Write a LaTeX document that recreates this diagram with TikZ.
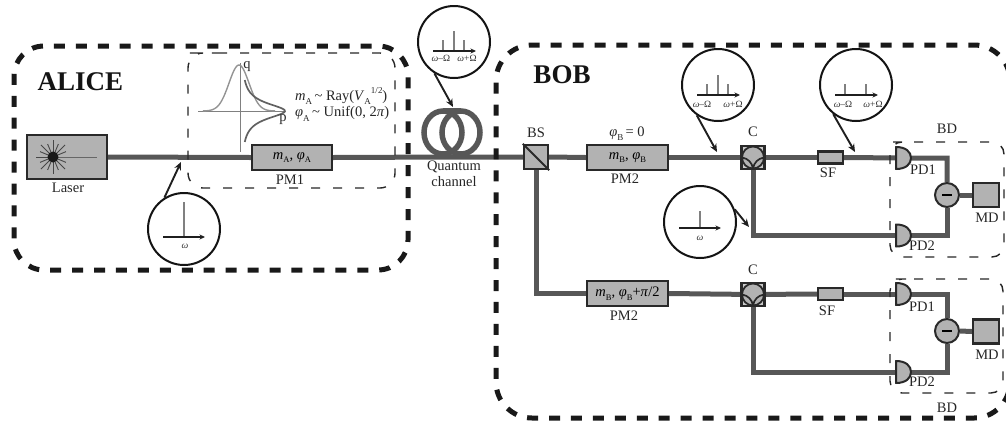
\documentclass[tikz,border=0pt]{standalone}
\usepackage{fontspec}
\setmainfont{Liberation Serif}
\usetikzlibrary{arrows.meta,backgrounds}
\definecolor{boxfill}{gray}{0.70}
\definecolor{boxline}{gray}{0.16}
\definecolor{beamgray}{gray}{0.34}
\newcommand{\labf}{\fontsize{14.5}{15}\selectfont}
\newcommand{\sm}{\fontsize{9.5}{10}\selectfont}
\newcommand{\subs}[1]{\raisebox{-0.25em}{\fontsize{8.5}{9}\selectfont #1}}
\newcommand{\subt}[1]{\raisebox{-0.3em}{\fontsize{9}{9}\selectfont #1}}
\newcommand{\phit}{\textit{φ}}
\newcommand{\omg}{\textit{ω}}
\newcommand{\tildec}{\char"7E\relax}
\tikzset{
  region/.style={line width=5pt,black!90,dash pattern=on 11pt off 10.94pt},
  innerregion/.style={line width=1.4pt,black!85,dash pattern=on 9pt off 13pt},
  gbox/.style={draw=boxline,fill=boxfill,line width=2.3pt,inner sep=0pt,minimum width=80pt,minimum height=25pt},
  sfbox/.style={gbox,minimum width=25pt,minimum height=12pt},
  sqbox/.style={gbox,minimum width=26pt,minimum height=24pt},
  beam/.style={beamgray,line width=5pt},
  bubble/.style={circle,draw=black!92,fill=white,line width=2pt,minimum size=72pt,inner sep=0pt},
  callout/.style={black!88,line width=1.9pt,-{Stealth[length=8pt,width=7pt]}},
  axisln/.style={black!88,line width=1.5pt,-{Stealth[length=5.5pt,width=5pt]}},
  tick/.style={black!50,line width=1.1pt},
  txt/.style={inner sep=0pt,text=black!85,font=\labf},
  tiny/.style={inner sep=0pt,text=black!80,font=\sm},
  title/.style={inner sep=0pt,font=\fontsize{27}{28}\selectfont\bfseries,text=black!92},
  devline/.style={draw=boxline,fill=boxfill,line width=2pt,line join=round},
  diffc/.style={circle,draw=boxline,fill=boxfill,line width=2pt,minimum size=24pt,inner sep=0pt},
  pdnode/.style={inner sep=0pt,minimum width=15pt,minimum height=23pt},
}
\newcommand{\PDdraw}[2]{% flat x, centre y
  \draw[devline] (#1,#2-11) -- (#1,#2+11) .. controls (#1+10,#2+11) and (#1+15,#2+6) .. (#1+15,#2) .. controls (#1+15,#2-6) and (#1+10,#2-11) .. cycle;
}
\newcommand{\Coupler}[2]{% centre
  \draw[boxline,fill=boxfill!70,line width=2.2pt] (#1,#2) +(-11.5,-11.5) rectangle +(11.5,11.5);
  \draw[boxline,fill=boxfill,line width=1.8pt] (#1,#2) circle (11);
  \draw[boxline,line width=1.7pt] (#1-11,#2+0) .. controls (#1-5,#2+1) and (#1-1,#2+5) .. (#1,#2+11);
  \draw[boxline,line width=1.7pt] (#1+11,#2+0) .. controls (#1+5,#2+1) and (#1+1,#2+5) .. (#1,#2+11);
}
\newcommand{\SpecThree}[2]{% centre x, axis y
  \draw[tick] (#1,#2) -- (#1,#2-20);
  \draw[tick] (#1-11,#2) -- (#1-11,#2-11);
  \draw[tick] (#1+10,#2) -- (#1+10,#2-11);
  \draw[axisln] (#1-21,#2) -- (#1+22,#2);
}
\newcommand{\SpecTwo}[2]{%
  \draw[tick] (#1-11,#2) -- (#1-11,#2-11);
  \draw[tick] (#1+10,#2) -- (#1+10,#2-11);
  \draw[axisln] (#1-21,#2) -- (#1+22,#2);
}
\begin{document}
\begin{tikzpicture}[x=1pt,y=-1pt]
\useasboundingbox (0,0) rectangle (1006,421);

% regions
\draw[region,rounded corners=30pt] (199,46) -- (408,46) -- (408,270) -- (14,270) -- (14,46) -- cycle;
\begin{scope}
  \clip (0,0) rectangle (1006,421);
  \draw[region,rounded corners=36pt] (691,45) -- (1010,45) -- (1010,418) -- (496,418) -- (496,45) -- cycle;
\end{scope}
\draw[innerregion,rounded corners=15pt] (203,53) -- (395,53) -- (395,188) -- (188,188) -- (188,53) -- cycle;
\draw[innerregion,rounded corners=12pt] (902,142) -- (1004,142) -- (1004,257) -- (890,257) -- (890,142) -- cycle;
\draw[innerregion,rounded corners=12pt] (902,279) -- (1003,279) -- (1003,393) -- (890,393) -- (890,279) -- cycle;

% devices
\node[gbox,minimum height=44pt] (laser) at (67,157) {};
\node[gbox] (pm1) at (292,157.5) {\labf\textit{m}\subs{A}, \phit\subs{A}};
\node[sqbox,minimum width=24pt] (bs) at (536,157) {};
\draw[boxline,line width=1.8pt] (bs.north west) -- (bs.south east);
\node[gbox,minimum width=81pt] (pm2) at (627.5,157.5) {\labf\textit{m}\subs{B}, \phit\subs{B}};
\node[gbox,minimum width=81pt] (pm3) at (627.5,293.5) {\labf\textit{m}\subs{B}, \phit\subs{B}+\textit{π}/2};
\node[pdnode] (c1) at (753,157.5) {};
\node[pdnode] (c2) at (753,294.5) {};
\node[sfbox] (sf1) at (830.5,157.5) {};
\node[sfbox] (sf2) at (830.5,294) {};
\node[pdnode] (pd1a) at (903.5,158) {};
\node[pdnode] (pd2a) at (903.5,235.5) {};
\node[pdnode] (pd1b) at (903.5,294) {};
\node[pdnode] (pd2b) at (903.5,372) {};
\node[diffc] (diffa) at (947,195) {\rule{10pt}{2pt}};
\node[diffc] (diffb) at (947,331) {\rule{10pt}{2pt}};
\node[sqbox] (mda) at (986,195) {};
\node[sqbox] (mdb) at (986,331.5) {};

% connectors
\coordinate (fibre) at (454,157);
\begin{scope}[on background layer]
  \draw[beam] (laser.east) -- (pm1.west);
  \draw[beam] (pm1.east) -- (fibre) -- (bs.west);
  \draw[beam] (bs.east) -- (pm2.west);
  \draw[beam] (pm2.east) -- (c1.center) -- (sf1.west);
  \draw[beam] (sf1.east) -- (pd1a.center) -| (diffa.north);
  \draw[beam] (c1.center) |- (pd2a.center) -| (diffa.south);
  \draw[beam] (bs.south) |- (pm3.west);
  \draw[beam] (pm3.east) -- (c2.center) -- (sf2.west);
  \draw[beam] (sf2.east) -- (pd1b.center) -| (diffb.north);
  \draw[beam] (c2.center) |- (pd2b.center) -| (diffb.south);
  \draw[beam] (diffa.east) -- (mda.west);
  \draw[beam] (diffb.east) -- (mdb.west);
\end{scope}
\Coupler{753}{157.5}
\Coupler{753}{294.5}
\PDdraw{896}{158}
\PDdraw{896}{235.5}
\PDdraw{896}{294}
\PDdraw{896}{372}

% laser star
\foreach \a in {0,22.5,...,359} {
  \draw[black!72,line width=0.9pt] (53,157) -- ++(\a:{mod(\a,45)==0 ? 17 : 14});
}
\draw[black!60,line width=1pt] (53,157) -- (97,157);
\fill[black!90] (53,157) circle (5.5);

% coil
\draw[beamgray,line width=5.5pt] (443,110.5) -- (461,110.5);
\draw[beamgray,line width=5.5pt] (443,132.5) circle [x radius=19,y radius=21.5];
\draw[beamgray,line width=5.5pt] (461,132.5) circle [x radius=19,y radius=21.5];

% phase-space plot
\draw[black!50,line width=1pt] (240,63) -- (240,152);
\draw[black!50,line width=1pt] (198,111) -- (286,111);
\draw[black!42,line width=1.4pt,smooth,samples=50,domain=-36:36] plot ({239+\x},{111-46*exp(-\x*\x/200)});
\draw[black!62,line width=1.7pt,smooth,samples=60,domain=-31:31] plot ({241+44/(1+(\x/9.5)*(\x/9.5))},{111+\x});

% bubbles
\node[bubble] (b0) at (184,229) {};
\draw[black!50,line width=1.1pt] (184,202) -- (184,237);
\draw[axisln] (163,237) -- (205,237);
\node[tiny] (b0w) at (185,246) {\omg};

\node[bubble] (b1) at (454,42) {};
\SpecThree{454}{51}
\node[tiny] (b1l) at (441,58.5) {\omg–Ω};
\node[tiny] (b1r) at (467,58.5) {\omg+Ω};

\node[bubble] (b2) at (718,85) {};
\SpecThree{718}{95}
\node[tiny] (b2l) at (702,104) {\omg–Ω};
\node[tiny] (b2r) at (733,104) {\omg+Ω};

\node[bubble] (b3) at (856,85) {};
\SpecTwo{856}{95}
\node[tiny] (b3l) at (843,104) {\omg–Ω};
\node[tiny] (b3r) at (873,104) {\omg+Ω};

\node[bubble] (b4) at (700,222) {};
\draw[black!50,line width=1.1pt] (700,211) -- (700,228);
\draw[axisln] (679,228) -- (721,228);
\node[tiny] (b4w) at (700,238) {\omg};

\coordinate (t0) at (181,162);
\coordinate (t1) at (453,107);
\coordinate (t2) at (717,152);
\coordinate (t3) at (855,152);
\coordinate (t4) at (749,227);
\draw[callout] (b0.122) -- (t0);
\draw[callout] (b1.-122) -- (t1);
\draw[callout] (b2.-125) -- (t2);
\draw[callout] (b3.-128) -- (t3);
\draw[callout] (b4.20) -- (t4);

% labels
\node[title] (alice) at (80.5,82) {ALICE};
\node[title] (bob) at (562,75) {BOB};
\node[txt] (tlaser) at (68,188) {Laser};
\node[txt] (tpm1) at (290,180) {PM1};
\node[txt] (tq) at (247,67) {q};
\node[txt] (tp) at (283,120) {p};
\node[txt,anchor=west] (tm) at (295,96) {\textit{m}\subt{A}\,\tildec\ Ray(\textit{V}\subt{A}\raisebox{0.45em}{\fontsize{9}{9}\selectfont 1/2})};
\node[txt,anchor=west] (tphi) at (295,114) {\phit\subt{A}\,\tildec\ Unif(0, 2\textit{π})};
\node[txt] (tqc1) at (454,167) {Quantum};
\node[txt] (tqc2) at (454,182) {channel};
\node[txt] (tbs) at (536,133) {BS};
\node[txt] (tphib) at (627,134) {\phit\subt{B}\,= 0};
\node[txt] (tpm2) at (625,179) {PM2};
\node[txt] (tpm3) at (624,316) {PM2};
\node[txt] (tc1) at (753,132) {C};
\node[txt] (tc2) at (753,270) {C};
\node[txt] (tsf1) at (828,173) {SF};
\node[txt] (tsf2) at (827,311) {SF};
\node[txt] (tbd1) at (947,129) {BD};
\node[txt] (tbd2) at (947,408) {BD};
\node[txt] (tpd1a) at (923,170) {PD1};
\node[txt] (tpd2a) at (922,246) {PD2};
\node[txt] (tpd1b) at (922,307) {PD1};
\node[txt] (tpd2b) at (922,382) {PD2};
\node[txt] (tmda) at (987,218) {MD};
\node[txt] (tmdb) at (987,355) {MD};
\end{tikzpicture}
\end{document}
